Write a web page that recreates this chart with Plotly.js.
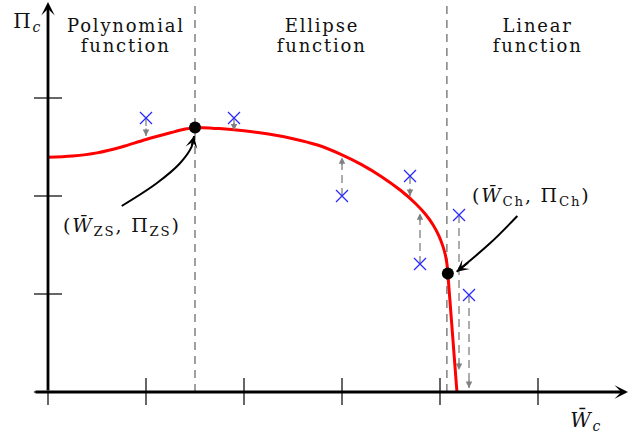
<!DOCTYPE html>
<html>
<head>
<meta charset="utf-8">
<script src="https://cdn.plot.ly/plotly-3.0.1.min.js"></script>
<style>
  html, body { margin: 0; padding: 0; background: #fff; }
  #chart { width: 630px; height: 437px; }
  #chart text { letter-spacing: 1.8px; }
</style>
</head>
<body>
<div id="chart"></div>
<script>
// Fitted price curve, in three pieces
const polyX = [0, 0.25, 0.5, 0.75, 1.0, 1.25, 1.4, 1.5];
const polyY = [2.395, 2.408, 2.44, 2.50, 2.577, 2.645, 2.683, 2.70];
const ellipseX = [1.5, 1.75, 2.0, 2.25, 2.5, 2.75, 3.0, 3.2, 3.4, 3.6, 3.75, 3.85, 3.93, 3.99, 4.03, 4.055, 4.07, 4.08];
const ellipseY = [2.70, 2.688, 2.665, 2.632, 2.585, 2.52, 2.42, 2.32, 2.20, 2.056, 1.924, 1.816, 1.704, 1.59, 1.486, 1.396, 1.313, 1.21];
const linearX = [4.08, 4.173];
const linearY = [1.21, 0];

// Breakpoints between the three pieces
const zsPoint = [1.5, 2.70];
const chPoint = [4.08, 1.21];
const regionBounds = [1.5, 4.07];

// Observations and where their residual arrows end
const obsX = [1.0, 1.898, 3.0, 3.694, 3.796, 4.194, 4.296];
const obsY = [2.796, 2.796, 2.0, 2.204, 1.306, 1.806, 0.99];
const residTipY = [2.612, 2.668, 2.395, 2.0, 1.823, 0.224, 0.04];

// Axis ticks
const xTicks = [0, 1, 2, 3, 4, 5];
const yTicks = [0, 1, 2, 3];

// Pointer curves for the breakpoint labels
const zsPointerX = [0.752, 1.109, 1.347, 1.466, 1.490];
const zsPointerY = [1.898, 2.130, 2.334, 2.503, 2.612];
const chPointerX = [4.789, 4.510, 4.170];
const chPointerY = [1.796, 1.517, 1.228];

// Text
const regionNames = [["Polynomial", "function"], ["Ellipse", "function"], ["Linear", "function"]];
const regionCenters = [0.796, 2.796, 4.995];
const zsLabel = "(<i>W\u0304</i><sub>ZS</sub>, \u03A0<sub>ZS</sub>)";
const chLabel = "(<i>W\u0304</i><sub>Ch</sub>, \u03A0<sub>Ch</sub>)";
const xTitle = "<i>W\u0304</i><sub><i>c</i></sub>";
const yTitle = "\u03A0<sub><i>c</i></sub>";

const FONT = "DejaVu Serif, Liberation Serif, serif";
const GREY = "#808080";
const RED = "#ff0000";
const BLUE = "#2b2bff";
const INK = "#111";

const traces = [];

// grey residual lines
obsX.forEach((x, i) => {
  traces.push({
    x: [x, x], y: [obsY[i], residTipY[i]],
    mode: "lines", hoverinfo: "skip",
    line: { color: GREY, width: 1.3, dash: "8px,5px" }
  });
});

// fitted curve
traces.push({ x: polyX, y: polyY, mode: "lines", line: { color: RED, width: 3, shape: "spline", smoothing: 1 }, hoverinfo: "skip" });
traces.push({ x: ellipseX, y: ellipseY, mode: "lines", line: { color: RED, width: 3, shape: "spline", smoothing: 1 }, hoverinfo: "skip" });
traces.push({ x: linearX, y: linearY, mode: "lines", line: { color: RED, width: 3 }, hoverinfo: "skip" });

// pointer curves
traces.push({ x: zsPointerX, y: zsPointerY, mode: "lines", line: { color: "#000", width: 2, shape: "spline" }, hoverinfo: "skip" });
traces.push({ x: chPointerX, y: chPointerY, mode: "lines", line: { color: "#000", width: 2, shape: "spline" }, hoverinfo: "skip" });

// observations
traces.push({
  x: obsX, y: obsY, mode: "markers", hoverinfo: "skip",
  marker: { symbol: "x-thin-open", size: 12, color: BLUE, line: { color: BLUE, width: 1.3 } }
});

// breakpoints
traces.push({
  x: [zsPoint[0], chPoint[0]], y: [zsPoint[1], chPoint[1]], mode: "markers", hoverinfo: "skip",
  marker: { symbol: "circle", size: 12, color: "#000" }
});

const shapes = [];
regionBounds.forEach(b => {
  shapes.push({ type: "line", xref: "x", yref: "y", x0: b, x1: b, y0: 0, y1: 4.0,
    line: { color: GREY, width: 1.5, dash: "8px,6px" }, layer: "below" });
});
xTicks.forEach(t => {
  shapes.push({ type: "line", xref: "x", yref: "y", ysizemode: "pixel", yanchor: 0,
    x0: t, x1: t, y0: -13, y1: t === 0 ? 0 : 14, line: { color: "#000", width: 1.2 } });
});
yTicks.forEach(t => {
  shapes.push({ type: "line", xref: "x", yref: "y", xsizemode: "pixel", xanchor: 0,
    y0: t, y1: t, x0: -14, x1: 14, line: { color: "#000", width: 1.2 } });
});

const annotations = [];
// axes with arrowheads
annotations.push({ x: 5.918, y: 0, ax: -0.143, ay: 0, xref: "x", yref: "y", axref: "x", ayref: "y",
  showarrow: true, arrowhead: 3, arrowsize: 0.8, arrowwidth: 2.8, arrowcolor: "#000", text: "" });
annotations.push({ x: 0, y: 3.98, ax: 0, ay: 0, xref: "x", yref: "y", axref: "x", ayref: "y",
  showarrow: true, arrowhead: 3, arrowsize: 0.8, arrowwidth: 2.8, arrowcolor: "#000", text: "" });

// residual arrowheads
obsX.forEach((x, i) => {
  const up = residTipY[i] > obsY[i];
  annotations.push({ x: x, y: residTipY[i], xref: "x", yref: "y", ax: 0, ay: up ? 9 : -9,
    showarrow: true, arrowhead: 2, arrowsize: 1, arrowwidth: 1.3, arrowcolor: GREY, text: "" });
});

// pointer arrowheads
annotations.push({ x: zsPointerX[4], y: zsPointerY[4], ax: zsPointerX[3], ay: zsPointerY[3],
  xref: "x", yref: "y", axref: "x", ayref: "y",
  showarrow: true, arrowhead: 3, arrowsize: 1, arrowwidth: 2, arrowcolor: "#000", text: "" });
annotations.push({ x: chPointerX[2], y: chPointerY[2], ax: 4.30, ay: 1.33,
  xref: "x", yref: "y", axref: "x", ayref: "y",
  showarrow: true, arrowhead: 3, arrowsize: 1, arrowwidth: 2, arrowcolor: "#000", text: "" });

// region titles
regionNames.forEach((lines, i) => {
  annotations.push({ x: regionCenters[i], y: 3.735, xref: "x", yref: "y", text: lines[0], showarrow: false,
    font: { family: FONT, size: 18, color: INK }, xanchor: "center", yanchor: "middle" });
  annotations.push({ x: regionCenters[i], y: 3.54, xref: "x", yref: "y", text: lines[1], showarrow: false,
    font: { family: FONT, size: 18, color: INK }, xanchor: "center", yanchor: "middle" });
});

// point labels and axis titles
annotations.push({ x: 0.755, y: 1.684, xref: "x", yref: "y", text: zsLabel, showarrow: false,
  font: { family: FONT, size: 19, color: INK } });
annotations.push({ x: 4.929, y: 2.0, xref: "x", yref: "y", text: chLabel, showarrow: false,
  font: { family: FONT, size: 19, color: INK } });
annotations.push({ x: -0.214, y: 3.776, xref: "x", yref: "y", text: yTitle, showarrow: false,
  font: { family: FONT, size: 20, color: INK } });
annotations.push({ x: 5.49, y: -0.286, xref: "x", yref: "y", text: xTitle, showarrow: false,
  font: { family: FONT, size: 20, color: INK } });

const layout = {
  width: 630, height: 437,
  margin: { l: 0, r: 0, t: 0, b: 0 },
  paper_bgcolor: "#fff", plot_bgcolor: "#fff",
  showlegend: false,
  xaxis: { range: [-0.4898, 5.9388], visible: false, fixedrange: true },
  yaxis: { range: [-0.4592, 4.0], visible: false, fixedrange: true },
  shapes: shapes,
  annotations: annotations
};

Plotly.newPlot("chart", traces, layout, { staticPlot: true, displayModeBar: false });
</script>
</body>
</html>
